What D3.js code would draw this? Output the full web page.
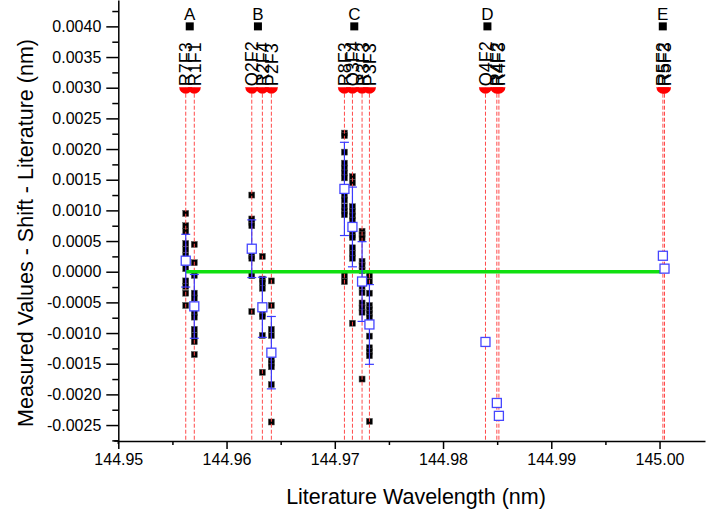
<!DOCTYPE html>
<html>
<head>
<meta charset="utf-8">
<script src="https://cdn.jsdelivr.net/npm/d3@7"></script>
<style>
  body { margin: 0; background: #fff; }
  text { font-family: Arial, "Liberation Sans", sans-serif; }
</style>
</head>
<body>
<svg id="chart" width="708" height="517"></svg>
<script>
// Transition names and literature wavelengths (nm)
const lineNames = ["R7F3", "R1F1", "Q2F2", "R2F4", "P2F3", "R8F3", "Q3F4", "R3F3", "P3F3",
                   "Q4F2", "R4F2", "R4F3", "R5F2", "R5F3"];
const lineWavelengths = [144.95623, 144.95702, 144.96233, 144.96331, 144.96414,
                         144.97089, 144.97163, 144.97252, 144.97320,
                         144.98392, 144.98497, 144.98516, 145.00031, 145.00046];

// Band groups
const groupNames = ["A", "B", "C", "D", "E"];
const groupWavelengths = [144.9566, 144.9629, 144.9718, 144.9841, 145.0003];

// Individual measurements (measured - shift - literature, nm), one list per transition
const measured = [
  [0.00095, 0.00075, 0.00066, 0.00046, 0.00036, 0.00026, 0.00005, -0.00015, -0.00024, -0.00035, -0.00055],
  [0.000445, 0.000147, -0.00006, -0.00035, -0.00043, -0.00067, -0.00074, -0.00094, -0.00104, -0.00114, -0.00135],
  [0.00125, 0.00086, 0.00080, 0.00075, 0.00026, 0.00022, -0.000065, -0.00065],
  [0.00025, -0.00012, -0.00018, -0.00027, -0.00068, -0.00073, -0.00104, -0.00164],
  [-0.00015, -0.00055, -0.00094, -0.00104, -0.00143, -0.00149, -0.00155, -0.00184, -0.00245],
  [0.00226, 0.00222, 0.00195, 0.00177, 0.00169, 0.00161, 0.00153, 0.00124, 0.00117, 0.00106, 0.00099, 0.00093, -0.000065, -0.00016],
  [0.00155, 0.00145, 0.00106, 0.00098, 0.00091, 0.00084, 0.00060, 0.00056, 0.00039, 0.00030, 0.00022, -0.00084],
  [0.00066, 0.00061, 0.00055, 0.00017, 0.00010, 0.00002, -0.00024, -0.00034, -0.00051, -0.00059, -0.00066, -0.00175],
  [-0.00006, -0.00016, -0.00035, -0.00055, -0.00062, -0.00068, -0.00075, -0.00105, -0.00124, -0.00130, -0.00137, -0.00244],
  [], [], [], [], []
];

// Mean deviation per transition and its standard deviation (null: single value)
const meanValues = [0.00018, -0.000565, 0.000375, -0.00058, -0.00132,
                    0.00135, 0.00073, -0.00016, -0.00086,
                    -0.001145, -0.00214, -0.00235, 0.00026, 0.00005];
const meanErrors = [0.00043, 0.00052, 0.00047, 0.00049, 0.00059,
                    0.00076, 0.00065, 0.00065, 0.00065,
                    null, null, null, null, null];

// Zero-deviation reference line
const zeroLineRange = [144.95623, 145.0002];
const zeroLineValue = 0;

// Heights used for the transition markers and group markers (nm on the y axis)
const lineMarkerLevel = 0.0030;
const groupMarkerLevel = 0.0040;

// Axis ticks
const xTicks = [144.95, 144.96, 144.97, 144.98, 144.99, 145.00];
const xTickLabels = ["144.95", "144.96", "144.97", "144.98", "144.99", "145.00"];
const yTicks = [-0.0025, -0.0020, -0.0015, -0.0010, -0.0005, 0.0000, 0.0005, 0.0010, 0.0015, 0.0020, 0.0025, 0.0030, 0.0035, 0.0040];
const yTickLabels = ["-0.0025", "-0.0020", "-0.0015", "-0.0010", "-0.0005", "0.0000", "0.0005", "0.0010", "0.0015", "0.0020", "0.0025", "0.0030", "0.0035", "0.0040"];

const svg = d3.select("#chart");

const x = d3.scaleLinear().domain([144.95, 145.0042]).range([118.3, 705]);
const y = d3.scaleLinear().domain([-0.00276, 0.00443]).range([441, 0]);

const xMinor = d3.range(0, 11).map(i => 144.95 + i * 0.005).filter(v => !xTicks.some(t => Math.abs(t - v) < 1e-9));
const yMinor = d3.range(-11, 18).map(i => i * 0.00025).filter(v => v >= -0.00276 && v <= 0.00443 && !yTicks.some(t => Math.abs(t - v) < 1e-9));

// Axes
const gx = svg.append("g").attr("transform", `translate(0,${y.range()[0]})`);
gx.call(d3.axisBottom(x).tickValues(xTicks).tickFormat((d, i) => xTickLabels[i]).tickSize(8).tickSizeOuter(0).tickPadding(5));
gx.append("g").call(d3.axisBottom(x).tickValues(xMinor).tickFormat("").tickSize(4).tickSizeOuter(0))
  .select(".domain").remove();

const gy = svg.append("g").attr("transform", `translate(${x.range()[0]},0)`);
gy.call(d3.axisLeft(y).tickValues(yTicks).tickFormat((d, i) => yTickLabels[i]).tickSize(12).tickSizeOuter(0).tickPadding(5));
gy.append("g").call(d3.axisLeft(y).tickValues(yMinor).tickFormat("").tickSize(6).tickSizeOuter(0))
  .select(".domain").remove();

svg.selectAll(".domain").attr("stroke", "#000").attr("stroke-width", 1.5);
svg.selectAll(".tick line").attr("stroke", "#000").attr("stroke-width", 1.5);
svg.selectAll(".tick text").attr("font-size", 16).attr("fill", "#000")
  .attr("font-family", "Arial, 'Liberation Sans', sans-serif");

// Short overhang where the two axes cross
svg.append("line")
  .attr("x1", x.range()[0] - 4).attr("x2", x.range()[0])
  .attr("y1", y.range()[0]).attr("y2", y.range()[0])
  .attr("stroke", "#000").attr("stroke-width", 1.5);
svg.append("line")
  .attr("x1", x.range()[0]).attr("x2", x.range()[0])
  .attr("y1", y.range()[0]).attr("y2", y.range()[0] + 3)
  .attr("stroke", "#000").attr("stroke-width", 1.5);

// Axis titles
svg.append("text")
  .attr("x", 416).attr("y", 504)
  .attr("text-anchor", "middle").attr("font-size", 21.5)
  .text("Literature Wavelength (nm)");
svg.append("text")
  .attr("transform", `translate(33,233) rotate(-90)`)
  .attr("text-anchor", "middle").attr("font-size", 21.5)
  .text("Measured Values - Shift - Literature (nm)");

// Individual measurements
const pointRows = measured.flatMap((vals, i) => vals.map(v => ({ wl: lineWavelengths[i], v })));
svg.append("g").selectAll("rect").data(pointRows).join("rect")
  .attr("x", d => x(d.wl) - 3).attr("y", d => y(d.v) - 3)
  .attr("width", 6).attr("height", 6)
  .attr("fill", "#000").attr("stroke", "#555").attr("stroke-width", 0.5);

// Transition markers: dashed drop lines and half-disc heads
svg.append("g").selectAll("line").data(lineWavelengths).join("line")
  .attr("x1", d => x(d)).attr("x2", d => x(d))
  .attr("y1", y(lineMarkerLevel)).attr("y2", y.range()[0])
  .attr("stroke", "#ff4a4a").attr("stroke-width", 1)
  .attr("stroke-dasharray", "4,2");

svg.append("clipPath").attr("id", "below-marker")
  .append("rect").attr("x", 0).attr("y", y(lineMarkerLevel) - 0.5)
  .attr("width", 708).attr("height", 40);
svg.append("g").attr("clip-path", "url(#below-marker)")
  .selectAll("circle").data(lineWavelengths).join("circle")
  .attr("cx", d => x(d)).attr("cy", y(lineMarkerLevel) - 0.5).attr("r", 6.5)
  .attr("fill", "#ff0000");

svg.append("g").selectAll("text").data(lineNames).join("text")
  .attr("transform", (d, i) => `translate(${x(lineWavelengths[i])},${y(lineMarkerLevel) - 1.5}) rotate(-90)`)
  .attr("dy", "0.36em").attr("font-size", 18).attr("fill", "#000")
  .text(d => d);

// Group markers
svg.append("g").selectAll("rect").data(groupWavelengths).join("rect")
  .attr("x", d => x(d) - 4).attr("y", y(groupMarkerLevel) - 4)
  .attr("width", 8).attr("height", 8).attr("fill", "#000");
svg.append("g").selectAll("text").data(groupNames).join("text")
  .attr("x", (d, i) => x(groupWavelengths[i])).attr("y", 20)
  .attr("text-anchor", "middle").attr("font-size", 17).attr("fill", "#000")
  .text(d => d);

// Zero line
svg.append("line")
  .attr("x1", x(zeroLineRange[0])).attr("x2", x(zeroLineRange[1]))
  .attr("y1", y(zeroLineValue)).attr("y2", y(zeroLineValue))
  .attr("stroke", "#10e010").attr("stroke-width", 3.5);

// Mean values with error bars
const means = meanValues.map((v, i) => ({ wl: lineWavelengths[i], v, e: meanErrors[i] }));
const withErr = means.filter(d => d.e !== null);
const eb = svg.append("g").attr("stroke", "#3a3aff").attr("stroke-width", 1.2);
eb.selectAll(".stem").data(withErr).join("line").attr("class", "stem")
  .attr("x1", d => x(d.wl)).attr("x2", d => x(d.wl))
  .attr("y1", d => y(d.v + d.e)).attr("y2", d => y(d.v - d.e));
eb.selectAll(".capTop").data(withErr).join("line").attr("class", "capTop")
  .attr("x1", d => x(d.wl) - 4.5).attr("x2", d => x(d.wl) + 4.5)
  .attr("y1", d => y(d.v + d.e)).attr("y2", d => y(d.v + d.e));
eb.selectAll(".capBot").data(withErr).join("line").attr("class", "capBot")
  .attr("x1", d => x(d.wl) - 4.5).attr("x2", d => x(d.wl) + 4.5)
  .attr("y1", d => y(d.v - d.e)).attr("y2", d => y(d.v - d.e));

svg.append("g").selectAll("rect").data(means).join("rect")
  .attr("x", d => x(d.wl) - 4.5).attr("y", d => y(d.v) - 4.5)
  .attr("width", 9).attr("height", 9)
  .attr("fill", "#fff").attr("stroke", "#4646ff").attr("stroke-width", 1.3);
</script>
</body>
</html>
